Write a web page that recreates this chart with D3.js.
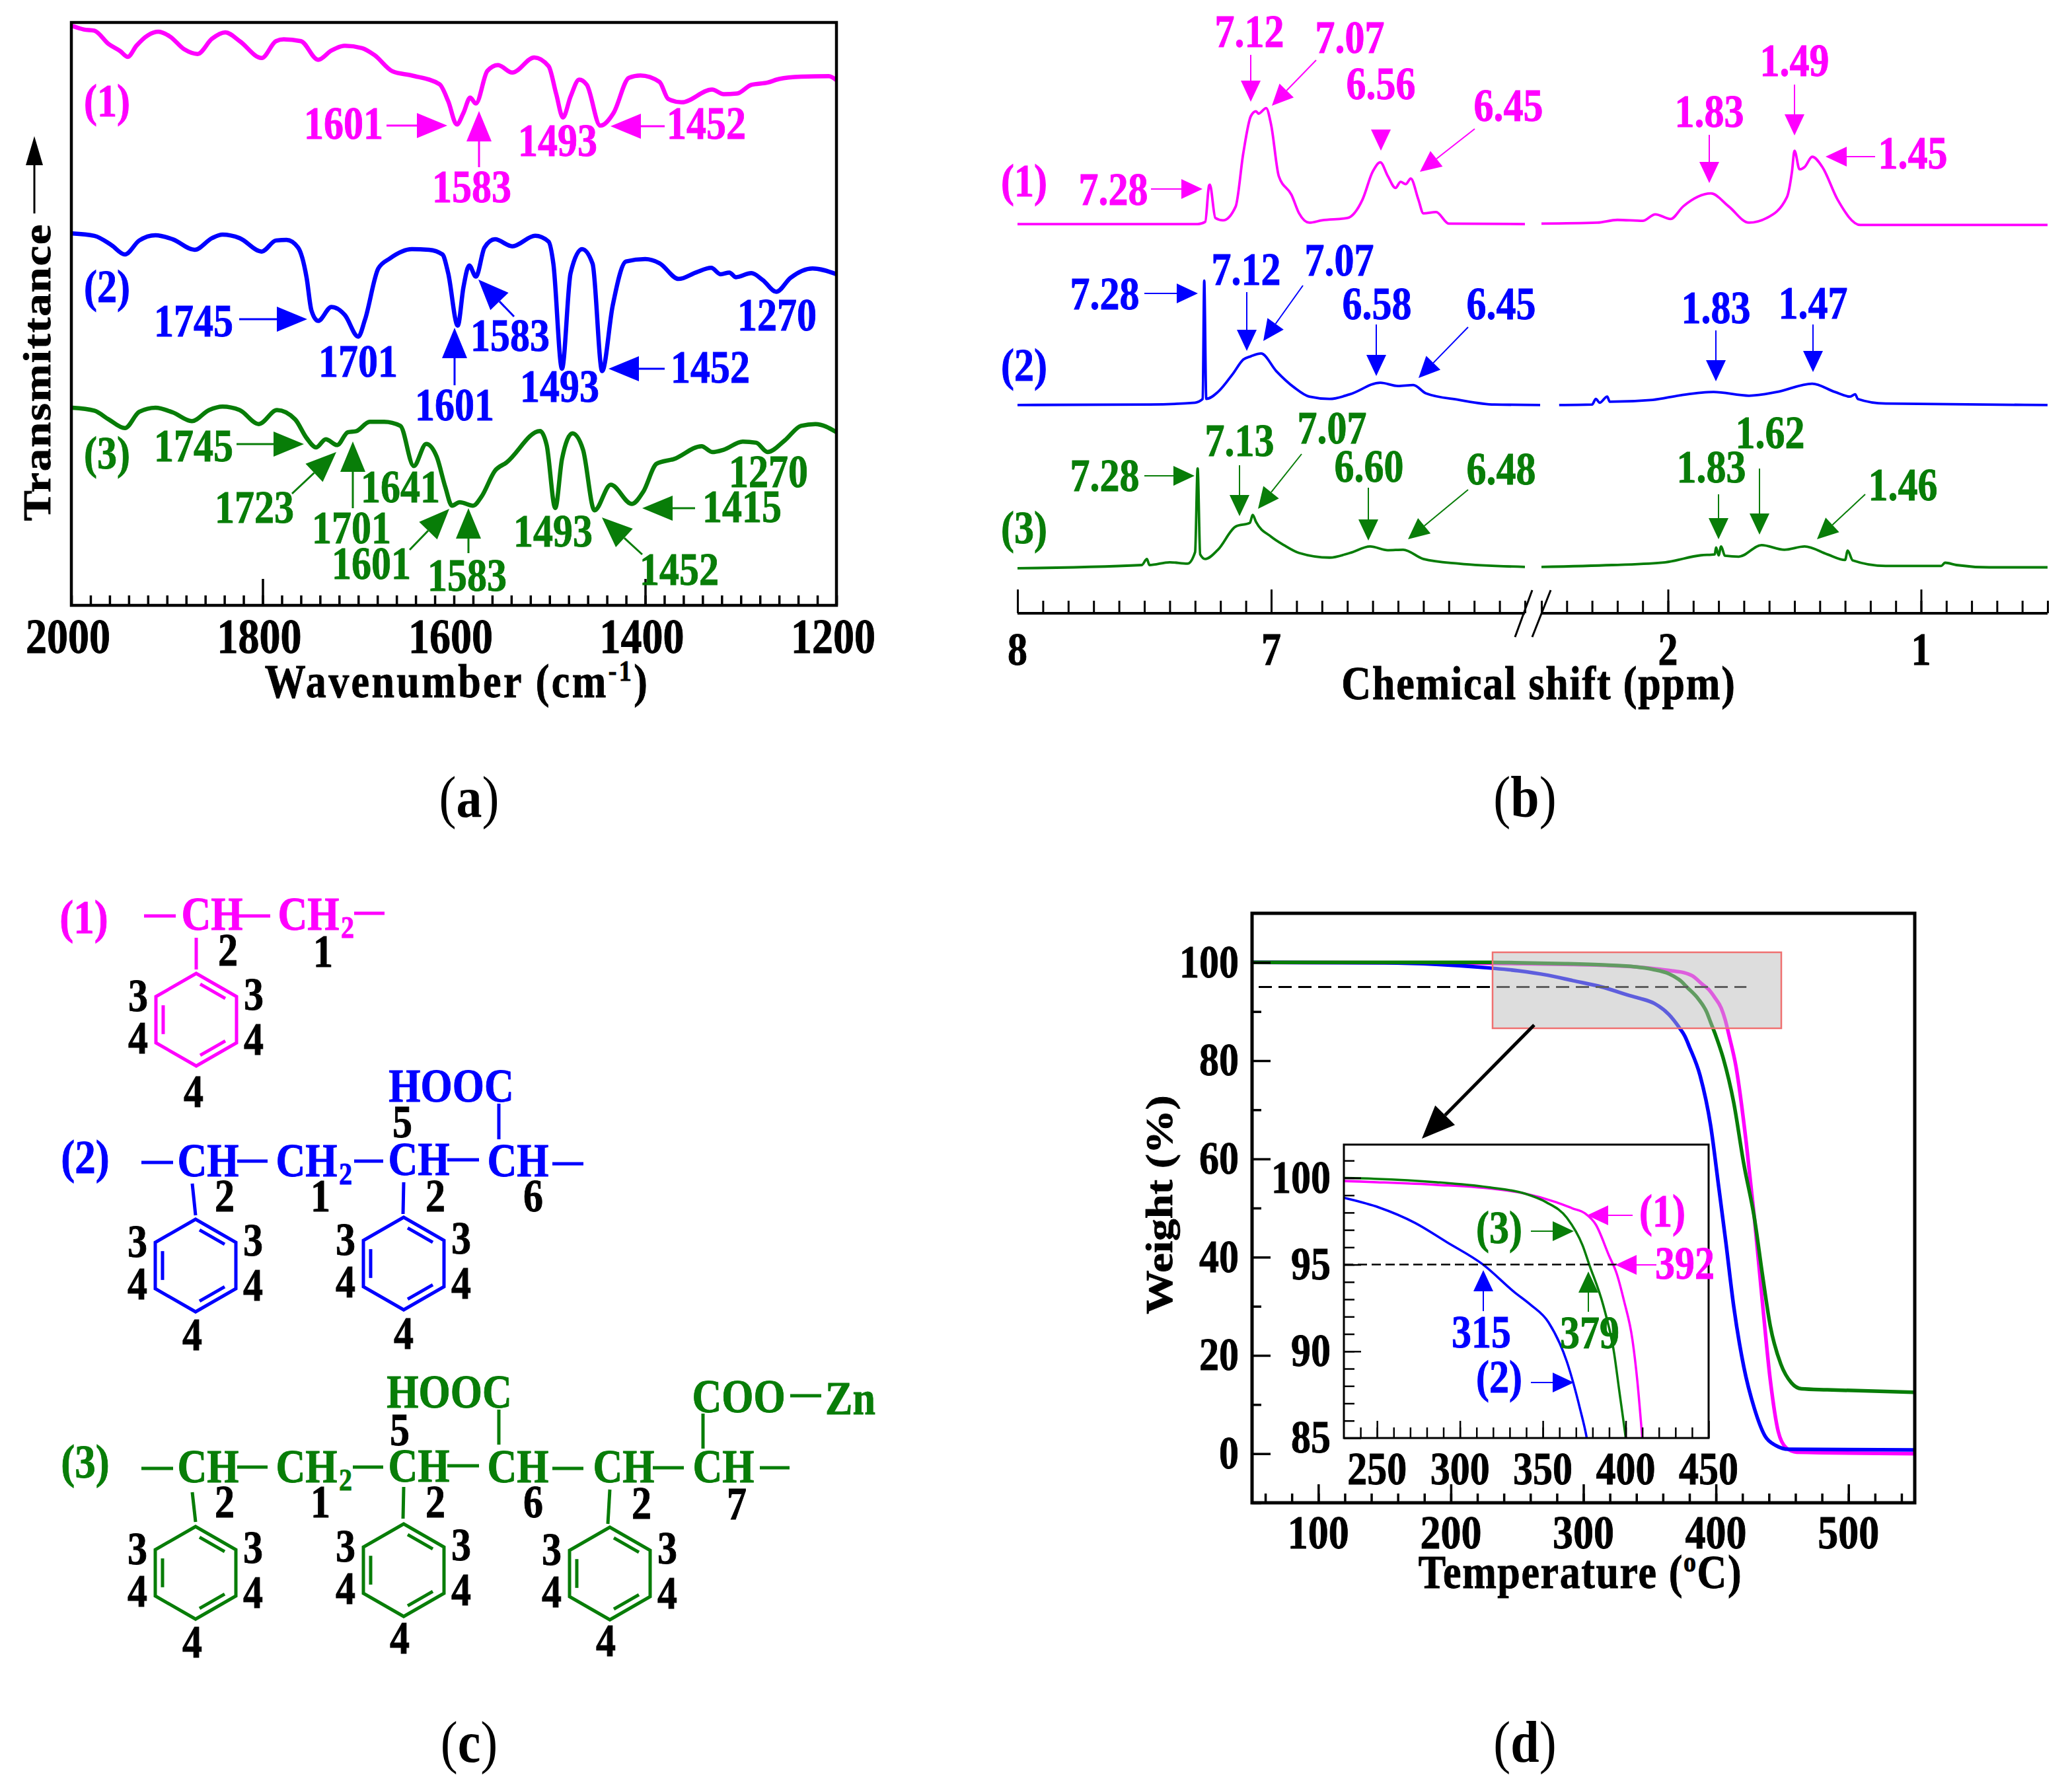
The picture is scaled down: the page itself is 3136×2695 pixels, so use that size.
<!DOCTYPE html>
<html>
<head>
<meta charset="utf-8">
<title>FTIR, NMR and TGA of polymers</title>
<script src="https://cdn.jsdelivr.net/npm/d3@7"></script>
<style>
  html, body { margin: 0; padding: 0; background: #fff; }
  text { font-family: "Liberation Serif", serif; font-weight: bold; }
</style>
</head>
<body>
<div id="fig"></div>
<script>
// === DATA: FTIR (a) ===
const irWave1 = [1999,1987,1976,1961,1949,1941,1932,1920,1909,1897,1882,1868,1853,1839,1824,1801,1786,1778,1760,1742,1728,1714,1696,1683,1664,1644,1615,1606,1597,1590,1583,1577,1565,1554,1539,1516,1501,1493,1486,1478,1469,1461,1447,1433,1417,1405,1385,1376,1362,1330,1318,1304,1289,1272,1260,1237,1208,1200];
const irT1 = [99.4,98.8,98.6,96.3,95.1,94.1,96,97.8,98.4,97.6,95.4,94.6,97.2,98.3,96.8,93.9,96.8,97.1,96.8,93.6,95.2,96,95.6,94.4,91.6,90.9,89.4,86.5,82.5,84.5,87.1,86.1,91.7,92.7,91.4,94,92.5,87.7,83.7,87.3,90.2,89.3,82.3,84.5,90.5,90.9,89.8,86.9,86.3,88.5,87.7,87.8,89.3,89.7,90.3,90.7,90.8,90.1];
const irWave2 = [1999,1976,1958,1944,1929,1912,1894,1871,1853,1842,1824,1801,1786,1775,1763,1754,1749,1742,1728,1714,1700,1693,1679,1667,1644,1626,1612,1606,1596,1590,1584,1577,1568,1557,1539,1515,1501,1496,1487,1478,1466,1455,1445,1434,1420,1400,1385,1365,1347,1331,1321,1312,1305,1289,1277,1263,1248,1225,1200];
const irT2 = [63.8,63.4,61.8,60.2,62.6,63.5,62.8,61,63,63.6,63,60.7,62.6,62.7,61.4,56.2,50.6,48.8,51.2,49.8,46.1,49,57.8,59.5,61.1,61,60.2,57,48,54.6,58.3,56.4,61.4,62.8,61.6,63.4,62.4,58.6,40.6,57,61.1,58.6,40.2,51.4,59,59.4,58.7,56,57.1,57.9,56.8,57.1,56.3,57,55.8,53.8,56.2,57.8,56.8];
const irWave3 = [1999,1976,1961,1944,1929,1912,1894,1874,1856,1842,1824,1804,1785,1766,1754,1744,1734,1722,1711,1702,1688,1673,1656,1642,1629,1618,1609,1602,1594,1580,1571,1557,1545,1510,1503,1494,1487,1476,1465,1453,1436,1414,1402,1388,1370,1341,1330,1318,1298,1284,1272,1254,1237,1222,1200];
const irT3 = [33.9,33.4,31.9,30.4,33.2,33.9,33.1,31.6,33.5,34.1,33.5,31.1,33.5,31.9,28.7,27.1,28.5,27.5,29.7,29.9,31.5,31.5,30.8,23.9,27.7,25.5,20.3,17.1,17.7,17.1,18.7,23.1,24.5,29.9,27.5,16.7,25.1,29.5,26.7,16.3,20.7,17.4,19.5,24.3,25.1,27.3,26.3,26.7,28.1,27.9,26.3,28.3,30.8,31.1,29.7];
const irTickLabels = [2000,1800,1600,1400,1200];

// === DATA: 1H NMR (b), left and right of the axis break ===
const nmrPpmL1 = [8,7.29,7.26,7.245,7.242,7.22,7.19,7.14,7.11,7.08,7.06,7.05,7.02,7,6.97,6.92,6.89,6.85,6.8,6.7,6.64,6.6,6.57,6.54,6.51,6.49,6.47,6.45,6.42,6.4,6.35,6.3,6];
const nmrIntL1 = [0,0,5,83,85,13,8,38,153,233,243,238,250,213,103,63,23,3,8,13,53,113,133,103,78,91,86,98,53,23,26,1,0];
const nmrPpmR1 = [2.5,2.28,2.2,2.1,2.05,1.99,1.94,1.83,1.76,1.68,1.61,1.53,1.51,1.5,1.48,1.46,1.43,1.39,1.33,1.24,0.5];
const nmrIntR1 = [1,3,9,7,21,11,38,66,38,3,13,58,113,158,118,123,145,123,53,-2,-2];
const nmrPpmL2 = [8,7.48,7.3,7.27,7.264,7.256,7.21,7.15,7.11,7.08,7.04,6.98,6.91,6.85,6.77,6.69,6.57,6.5,6.44,6.39,6.26,6.12,5.94];
const nmrIntL2 = [0,1,5,13,268,13,28,68,98,105,111,73,38,18,13,23,48,41,43,25,11,1,0];
const nmrPpmR2 = [2.43,2.3,2.285,2.27,2.24,2.23,2.06,1.95,1.82,1.68,1.57,1.43,1.34,1.28,1.26,1.25,1.14,0.5];
const nmrIntR2 = [0,1,13,5,18,7,11,21,28,20,28,46,28,18,23,13,3,0];
const nmrPpmL3 = [8,7.51,7.49,7.48,7.4,7.33,7.3,7.29,7.28,7.26,7.21,7.14,7.084,7.073,7.06,7,6.95,6.89,6.77,6.69,6.61,6.54,6.48,6.4,6.26,6];
const nmrIntL3 = [-2,5,18,5,11,8,33,213,28,18,38,88,96,113,98,66,48,31,21,31,45,37,38,18,8,1];
const nmrPpmR3 = [2.5,2.22,2.01,1.87,1.815,1.81,1.8,1.79,1.775,1.72,1.63,1.54,1.46,1.37,1.3,1.29,1.27,1.14,0.92,0.905,0.86,0.73,0.5];
const nmrIntR3 = [1,5,11,26,28,43,26,45,25,23,48,38,45,28,16,36,15,3,3,10,5,0,0];
const nmrOffsets = [839,449,99];
const nmrTickLabels = [8,7,2,1];

// === DATA: TGA (d) ===
const tgaTemp1 = [50,150,200,250,286,317,339,358,367.7,375.5,382,390,394.5,399,404,407,410,415,423,429,435,441,447,453,461,550];
const tgaWeight1 = [100,99.95,99.9,99.75,99.6,99.4,99.1,98.6,98.25,97.95,97.3,95.5,94.5,92.9,90.7,88.3,85,79,63,48,31,15,4.5,1.2,0.3,0];
const tgaTemp2 = [50,150,189,230,251,273,292,314,333,342.4,353.5,364.5,372.4,376.5,380,388,396,402,407.5,413.4,421,429,437,445,455,550];
const tgaWeight2 = [100,99.9,99.6,98.85,98.3,97.4,96.3,95,93.4,92.7,91.66,89.4,86.7,85,82.8,77,66.8,54.5,43,30,17.7,9.2,3.6,1.7,0.9,0.75];
const tgaTemp3 = [50,230,248,286,317,339,352,364.5,374,378,386.6,393,396,400,405.5,413.4,421,429,435,441,449,457,464.5,484,550];
const tgaWeight3 = [100,100,99.95,99.75,99.46,99.1,98.6,97.7,96.1,95,92.6,89.9,87.8,85,80.5,71.5,59,48,36.6,26,18.2,14.4,13.2,13,12.5];
const tgaXLabels = [100,200,300,400,500];
const tgaYLabels = [0,20,40,60,80,100];
const insetXLabels = [250,300,350,400,450];
const insetYLabels = [85,90,95,100];

// === COLOURS ===
const MAG = "#ff00ff", BLU = "#0000ff", GRN = "#087d08", BLK = "#000";

// === SETUP ===
const svg = d3.select("#fig").append("svg")
  .attr("width", 3136)
  .attr("height", 2695)
  .attr("viewBox", "0 0 3136 2695");

svg.append("defs").append("clipPath").attr("id", "insetClip")
  .append("rect").attr("x", 2034).attr("y", 1732).attr("width", 552).attr("height", 444);

// the source picture is stretched vertically, so all text is too
const STRETCH = 1.15;

function txt(x, y, str, color = BLK, size = 60, opts = {}) {
  // "(1)" style labels sit a little higher than digits
  const lift = /^\(\d\)$/.test(str) ? 7 : 3;
  const t = svg.append("text")
    .attr("transform", `translate(${x},${y - lift}) scale(1,${STRETCH})` + (opts.rotate ? ` rotate(${opts.rotate})` : ""))
    .attr("text-anchor", opts.anchor || "middle")
    .attr("dy", "0.34em")
    .attr("fill", color)
    .attr("stroke", color)
    .attr("stroke-width", 0.8)
    .attr("font-size", size)
    .attr("letter-spacing", opts.spacing || 0)
    .text(str);
  return t;
}

function arrow(x1, y1, x2, y2, color, headLen = 46, headW = 38, sw = 3) {
  const a = Math.atan2(y2 - y1, x2 - x1);
  const bx = x2 - Math.cos(a) * headLen, by = y2 - Math.sin(a) * headLen;
  const nx = -Math.sin(a) * headW / 2, ny = Math.cos(a) * headW / 2;
  svg.append("line")
    .attr("x1", x1).attr("y1", y1).attr("x2", bx).attr("y2", by)
    .attr("stroke", color).attr("stroke-width", sw);
  svg.append("polygon")
    .attr("points", `${x2},${y2} ${bx + nx},${by + ny} ${bx - nx},${by - ny}`)
    .attr("fill", color);
}

function zip(xs, ys) { return xs.map((x, i) => [x, ys[i]]); }

function drawTicks(axis, tx, ty, sw) {
  const g = svg.append("g").attr("transform", `translate(${tx},${ty})`).call(axis);
  g.select(".domain").remove();
  g.selectAll("line").attr("stroke", BLK).attr("stroke-width", sw);
  g.selectAll("text").remove();
  return g;
}

function frame(x0, y0, x1, y1, sw) {
  svg.append("rect").attr("x", x0).attr("y", y0)
    .attr("width", x1 - x0).attr("height", y1 - y0)
    .attr("fill", "none").attr("stroke", BLK).attr("stroke-width", sw);
}

function panelLabel(x, y, letter) {
  const t = txt(x, y, "", BLK, 78).attr("stroke", "none").style("font-weight", "normal");
  t.append("tspan").text("(");
  t.append("tspan").style("font-weight", "bold").text(letter);
  t.append("tspan").text(")");
}

// === PANEL (a): FTIR ===
const xIr = d3.scaleLinear().domain([2000, 1200]).range([108, 1266]);
const yIr = d3.scaleLinear().domain([0, 100]).range([916, 34]);
const irLine = d3.line().x(d => xIr(d[0])).y(d => yIr(d[1])).curve(d3.curveMonotoneX);

[[irWave1, irT1, MAG], [irWave2, irT2, BLU], [irWave3, irT3, GRN]].forEach(([w, t, c]) => {
  svg.append("path").datum(zip(w, t))
    .attr("d", irLine).attr("fill", "none").attr("stroke", c).attr("stroke-width", 6.5);
});

drawTicks(d3.axisBottom(xIr).tickValues(d3.range(2000, 1199, -20)).tickSize(-15).tickSizeOuter(0).tickFormat(""), 0, 916, 3.5);
drawTicks(d3.axisBottom(xIr).tickValues([1800, 1400]).tickSize(-40).tickSizeOuter(0).tickFormat(""), 0, 916, 3.5);
frame(108, 34, 1266, 916, 4.5);
irTickLabels.forEach(v => txt(xIr(v) - 5, 966, v, BLK, 64));

const wn = txt(692, 1034, "Wavenumber (cm", BLK, 62, { spacing: 3.4 });
wn.append("tspan").attr("font-size", 38).attr("dy", -22).text("-1");
wn.append("tspan").attr("dy", 22).text(")");
txt(56, 566, "Transmittance", BLK, 60, { rotate: -90, spacing: 1.5 });
arrow(52, 323, 52, 206, BLK, 44, 26, 3);

const irNotes = [
  ["(1)", 162, 160, MAG], ["1601", 520, 190, MAG], ["1583", 714, 286, MAG], ["1493", 844, 216, MAG], ["1452", 1069, 190, MAG],
  ["(2)", 162, 441, BLU], ["1745", 293, 489, BLU], ["1701", 542, 550, BLU], ["1601", 688, 616, BLU], ["1583", 772, 511, BLU], ["1493", 847, 588, BLU], ["1452", 1075, 559, BLU], ["1270", 1176, 480, BLU],
  ["(3)", 162, 693, GRN], ["1745", 293, 678, GRN], ["1723", 385, 771, GRN], ["1701", 532, 802, GRN], ["1641", 606, 740, GRN], ["1601", 562, 856, GRN], ["1583", 707, 874, GRN], ["1493", 837, 807, GRN], ["1452", 1028, 865, GRN], ["1415", 1123, 770, GRN], ["1270", 1163, 717, GRN]
];
irNotes.forEach(n => txt(n[1], n[2], n[0], n[3]));

const irArrows = [
  [585,190,677,190,MAG],[725,253,725,168,MAG],[1006,191,924,191,MAG],
  [362,483,465,483,BLU],[688,583,688,496,BLU],[778,479,724,423,BLU],[1006,558,921,558,BLU],
  [358,672,460,672,GRN],[442,747,509,684,GRN],[534,769,534,668,GRN],[620,832,680,770,GRN],[709,837,709,769,GRN],[972,839,911,783,GRN],[1052,769,972,769,GRN]
];
irArrows.forEach(a => arrow(a[0], a[1], a[2], a[3], a[4]));
panelLabel(710, 1208, "a");

// === PANEL (b): NMR ===
const xNmrL = d3.scaleLinear().domain([8, 6]).range([1540, 2308]);
const xNmrR = d3.scaleLinear().domain([2.5, 0.5]).range([2333, 3099]);
const yNmr = d3.scaleLinear().domain([0, 1322]).range([928, 0]);

function nmrPath(xs, ys, scale, offset, color) {
  const line = d3.line().x(d => scale(d[0])).y(d => yNmr(d[1] + offset)).curve(d3.curveMonotoneX);
  svg.append("path").datum(zip(xs, ys))
    .attr("d", line).attr("fill", "none").attr("stroke", color).attr("stroke-width", 3.8);
}
nmrPath(nmrPpmL1, nmrIntL1, xNmrL, nmrOffsets[0], MAG);
nmrPath(nmrPpmR1, nmrIntR1, xNmrR, nmrOffsets[0], MAG);
nmrPath(nmrPpmL2, nmrIntL2, xNmrL, nmrOffsets[1], BLU);
nmrPath(nmrPpmR2, nmrIntR2, xNmrR, nmrOffsets[1], BLU);
nmrPath(nmrPpmL3, nmrIntL3, xNmrL, nmrOffsets[2], GRN);
nmrPath(nmrPpmR3, nmrIntR3, xNmrR, nmrOffsets[2], GRN);

// axis with a break between 6 and 2.5 ppm
const nmrLTicks = d3.range(0, 21).map(i => 8 - i * 0.1);
const nmrRTicks = d3.range(0, 21).map(i => 2.5 - i * 0.1);
[[xNmrL, nmrLTicks, [8, 7]], [xNmrR, nmrRTicks, [2, 1]]].forEach(([s, ticks, majors]) => {
  drawTicks(d3.axisBottom(s).tickValues(ticks).tickSize(-19).tickSizeOuter(0).tickFormat(""), 0, 928, 3);
  drawTicks(d3.axisBottom(s).tickValues(majors).tickSize(-36).tickSizeOuter(0).tickFormat(""), 0, 928, 3);
  svg.append("line").attr("x1", s.range()[0]).attr("x2", s.range()[1]).attr("y1", 928).attr("y2", 928)
    .attr("stroke", BLK).attr("stroke-width", 4);
});
[[2293, 964, 2319, 893], [2319, 964, 2347, 893]].forEach(b => {
  svg.append("line").attr("x1", b[0]).attr("y1", b[1]).attr("x2", b[2]).attr("y2", b[3])
    .attr("stroke", BLK).attr("stroke-width", 3);
});
txt(xNmrL(8), 986, nmrTickLabels[0]);
txt(xNmrL(7), 986, nmrTickLabels[1]);
txt(xNmrR(2), 986, nmrTickLabels[2]);
txt(xNmrR(1), 986, nmrTickLabels[3]);
txt(2329, 1037, "Chemical shift (ppm)", BLK, 62, { spacing: 1.8 });

const nmrNotes = [
  ["(1)",1550,281,MAG],["7.28",1685,290,MAG],["7.12",1891,51,MAG],["7.07",2043,60,MAG],["6.56",2090,130,MAG],["6.45",2283,163,MAG],["1.83",2587,172,MAG],["1.49",2716,95,MAG],["1.45",2895,235,MAG],
  ["(2)",1550,560,BLU],["7.28",1672,448,BLU],["7.12",1886,411,BLU],["7.07",2027,397,BLU],["6.58",2084,463,BLU],["6.45",2272,463,BLU],["1.83",2597,469,BLU],["1.47",2744,462,BLU],
  ["(3)",1550,806,GRN],["7.28",1672,723,GRN],["7.13",1876,670,GRN],["7.07",2016,651,GRN],["6.60",2072,709,GRN],["6.48",2272,713,GRN],["1.83",2590,710,GRN],["1.62",2679,658,GRN],["1.46",2880,737,GRN]
];
nmrNotes.forEach(n => txt(n[1], n[2], n[0], n[3], 60));

const nmrArrows = [
  [1742,286,1820,286,MAG],[1893,83,1893,154,MAG],[1992,91,1925,160,MAG],[2090,196,2090,228,MAG],[2232,195,2149,260,MAG],[2587,204,2587,277,MAG],[2716,128,2716,205,MAG],[2838,237,2763,237,MAG],
  [1732,444,1813,444,BLU],[1887,442,1887,531,BLU],[1972,432,1912,516,BLU],[2083,491,2083,569,BLU],[2222,495,2147,572,BLU],[2597,500,2597,577,BLU],[2744,491,2744,563,BLU],
  [1732,720,1808,720,GRN],[1876,704,1876,781,GRN],[1970,687,1904,770,GRN],[2071,738,2071,818,GRN],[2222,741,2131,816,GRN],[2601,748,2601,816,GRN],[2663,709,2663,809,GRN],[2823,748,2750,816,GRN]
];
nmrArrows.forEach(a => arrow(a[0], a[1], a[2], a[3], a[4], 32, 30, 2));
panelLabel(2308, 1208, "b");

// === PANEL (c): STRUCTURES ===
function bond(x1, y1, x2, y2, color) {
  svg.append("line").attr("x1", x1).attr("y1", y1).attr("x2", x2).attr("y2", y2)
    .attr("stroke", color).attr("stroke-width", 5);
}

function ring(cx, cy, color) {
  const rx = 61, ry = 70;
  const v = [[0,-ry],[rx,-ry/2],[rx,ry/2],[0,ry],[-rx,ry/2],[-rx,-ry/2]].map(p => [cx + p[0], cy + p[1]]);
  svg.append("polygon").attr("points", v.map(p => p.join(",")).join(" "))
    .attr("fill", "none").attr("stroke", color).attr("stroke-width", 5);
  // inner double bonds
  [[0,1],[2,3],[4,5]].forEach(([a, b]) => {
    const p = v[a], q = v[b], k = 0.82, e = 0.12;
    const ix = t => cx + (p[0] + (q[0] - p[0]) * t - cx) * k;
    const iy = t => cy + (p[1] + (q[1] - p[1]) * t - cy) * k;
    bond(ix(e), iy(e), ix(1 - e), iy(1 - e), color);
  });
  txt(cx - 88, cy - 33, "3");
  txt(cx + 87, cy - 35, "3");
  txt(cx - 88, cy + 31, "4");
  txt(cx + 87, cy + 33, "4");
}

function ch2(x, y, color) {
  txt(x, y, "CH", color, 62);
  txt(x + 59, y + 20, "2", color, 40);
}

// (1)
txt(127, 1394, "(1)", MAG, 63);
bond(218,1386,266,1386,MAG); txt(321,1386,"CH",MAG,62); bond(361,1386,409,1386,MAG);
ch2(467,1386,MAG); bond(536,1382,582,1382,MAG);
txt(345,1441,"2"); txt(489,1443,"1");
bond(297,1419,297,1467,MAG); ring(297,1543,MAG); txt(293,1655,"4");

// (2)
txt(129,1757,"(2)",BLU,63);
bond(214,1759,262,1759,BLU); txt(315,1759,"CH",BLU,62); bond(359,1757,405,1757,BLU);
ch2(464,1759,BLU); bond(536,1757,580,1757,BLU);
txt(634,1757,"CH",BLU,62); bond(677,1755,725,1755,BLU);
txt(784,1759,"CH",BLU,62); bond(836,1761,883,1761,BLU);
txt(683,1646,"HOOC",BLU,62); bond(755,1670,755,1724,BLU);
txt(609,1701,"5"); txt(340,1813,"2"); txt(485,1813,"1"); txt(659,1813,"2"); txt(807,1813,"6");
bond(291,1791,296,1839,BLU); ring(296,1915,BLU); txt(291,2023,"4");
bond(611,1789,610,1837,BLU); ring(611,1912,BLU); txt(611,2021,"4");

// (3)
txt(129,2218,"(3)",GRN,63);
bond(214,2222,262,2222,GRN); txt(315,2222,"CH",GRN,62); bond(359,2220,405,2220,GRN);
ch2(464,2222,GRN); bond(534,2220,580,2220,GRN);
txt(634,2221,"CH",GRN,62); bond(677,2218,725,2218,GRN);
txt(784,2222,"CH",GRN,62); bond(836,2222,883,2222,GRN);
txt(944,2222,"CH",GRN,62); bond(988,2221,1035,2221,GRN);
txt(1095,2222,"CH",GRN,62); bond(1150,2221,1195,2221,GRN);
txt(680,2109,"HOOC",GRN,62); bond(755,2133,755,2186,GRN);
txt(1118,2116,"COO",GRN,62); bond(1064,2139,1064,2192,GRN);
bond(1196,2112,1243,2112,GRN); txt(1287,2119,"Zn",GRN,62);
txt(605,2167,"5"); txt(340,2276,"2"); txt(485,2276,"1"); txt(659,2276,"2"); txt(807,2276,"6"); txt(971,2278,"2"); txt(1115,2279,"7");
bond(291,2258,296,2303,GRN); ring(296,2380,GRN); txt(291,2488,"4");
bond(611,2250,610,2298,GRN); ring(611,2376,GRN); txt(605,2482,"4");
bond(923,2254,920,2306,GRN); ring(923,2381,GRN); txt(917,2486,"4");
panelLabel(710, 2638, "c");

// === PANEL (d): TGA ===
const xTga = d3.scaleLinear().domain([50, 550]).range([1895, 2898]);
const yTga = d3.scaleLinear().domain([-10, 110]).range([2274, 1382]);
const tgaSeries = [[tgaTemp1, tgaWeight1, MAG], [tgaTemp2, tgaWeight2, BLU], [tgaTemp3, tgaWeight3, GRN]];

const tgaLine = d3.line().x(d => xTga(d[0])).y(d => yTga(d[1])).curve(d3.curveMonotoneX);
tgaSeries.forEach(([t, w, c]) => {
  svg.append("path").datum(zip(t, w))
    .attr("d", tgaLine).attr("fill", "none").attr("stroke", c).attr("stroke-width", 5.5);
});

svg.append("line")
  .attr("x1", xTga(55)).attr("x2", xTga(423)).attr("y1", yTga(95)).attr("y2", yTga(95))
  .attr("stroke", BLK).attr("stroke-width", 3).attr("stroke-dasharray", "20,10");

// grey zoom box, over the curves
svg.append("rect")
  .attr("x", 2259).attr("y", 1441).attr("width", 437).attr("height", 115)
  .attr("fill", "#bbb").attr("fill-opacity", 0.5)
  .attr("stroke", "#f07070").attr("stroke-width", 2.5);

drawTicks(d3.axisBottom(xTga).tickValues(d3.range(60, 550, 20)).tickSize(-14).tickSizeOuter(0).tickFormat(""), 0, 2274, 3.5);
drawTicks(d3.axisBottom(xTga).tickValues(tgaXLabels).tickSize(-28).tickSizeOuter(0).tickFormat(""), 0, 2274, 3.5);
drawTicks(d3.axisLeft(yTga).tickValues(d3.range(-10, 110, 20)).tickSize(-14).tickSizeOuter(0).tickFormat(""), 1895, 0, 3.5);
drawTicks(d3.axisLeft(yTga).tickValues(tgaYLabels).tickSize(-28).tickSizeOuter(0).tickFormat(""), 1895, 0, 3.5);
frame(1895, 1382, 2898, 2274, 5);
tgaXLabels.forEach(v => txt(xTga(v), 2322, v, BLK, 62));
tgaYLabels.forEach(v => txt(1875, yTga(v) + 2, v, BLK, 60, { anchor: "end" }));

const tempTitle = txt(2392, 2382, "Temperature (", BLK, 62, { spacing: 1.6 });
tempTitle.append("tspan").attr("font-size", 38).attr("dy", -22).text("o");
tempTitle.append("tspan").attr("dy", 22).text("C)");
txt(1754, 1826, "Weight (%)", BLK, 58, { rotate: -90 });
arrow(2322, 1551, 2152, 1723, BLK, 50, 42, 5);

// inset
const xIn = d3.scaleLinear().domain([230, 450]).range([2034, 2586]);
const yIn = d3.scaleLinear().domain([85, 101.92]).range([2176, 1732]);
svg.append("rect").attr("x", 2034).attr("y", 1732).attr("width", 552).attr("height", 444).attr("fill", "#fff");

const inLine = d3.line().x(d => xIn(d[0])).y(d => yIn(d[1])).curve(d3.curveMonotoneX);
const inG = svg.append("g").attr("clip-path", "url(#insetClip)");
tgaSeries.forEach(([t, w, c]) => {
  inG.append("path").datum(zip(t, w))
    .attr("d", inLine).attr("fill", "none").attr("stroke", c).attr("stroke-width", 3.5);
});
svg.append("line")
  .attr("x1", xIn(230)).attr("x2", xIn(404)).attr("y1", yIn(95)).attr("y2", yIn(95))
  .attr("stroke", BLK).attr("stroke-width", 2.5).attr("stroke-dasharray", "14,7");

drawTicks(d3.axisBottom(xIn).tickValues(d3.range(240, 450, 10)).tickSize(-16).tickSizeOuter(0).tickFormat(""), 0, 2176, 2.5);
drawTicks(d3.axisBottom(xIn).tickValues(insetXLabels).tickSize(-26).tickSizeOuter(0).tickFormat(""), 0, 2176, 2.5);
drawTicks(d3.axisLeft(yIn).tickValues(d3.range(86, 102, 1)).tickSize(-16).tickSizeOuter(0).tickFormat(""), 2034, 0, 2.5);
drawTicks(d3.axisLeft(yIn).tickValues(insetYLabels).tickSize(-26).tickSizeOuter(0).tickFormat(""), 2034, 0, 2.5);
frame(2034, 1732, 2586, 2176, 3);
insetXLabels.forEach(v => txt(xIn(v), 2226, v, BLK, 60));
insetYLabels.forEach(v => txt(2014, yIn(v) + 2, v, BLK, 60, { anchor: "end" }));

const tgaNotes = [
  ["(1)",2516,1840,MAG],["(3)",2269,1865,GRN],["392",2550,1915,MAG],["315",2242,2019,BLU],["379",2406,2020,GRN],["(2)",2269,2091,BLU]
];
tgaNotes.forEach(n => txt(n[1], n[2], n[0], n[3]));
const tgaArrows = [
  [2471,1839,2402,1839,MAG],[2317,1863,2382,1863,GRN],[2507,1914,2445,1914,MAG],[2245,1984,2245,1922,BLU],[2404,1985,2404,1924,GRN],[2317,2092,2382,2092,BLU]
];
tgaArrows.forEach(a => arrow(a[0], a[1], a[2], a[3], a[4], 32, 30, 2));
panelLabel(2308, 2638, "d");
</script>
</body>
</html>
